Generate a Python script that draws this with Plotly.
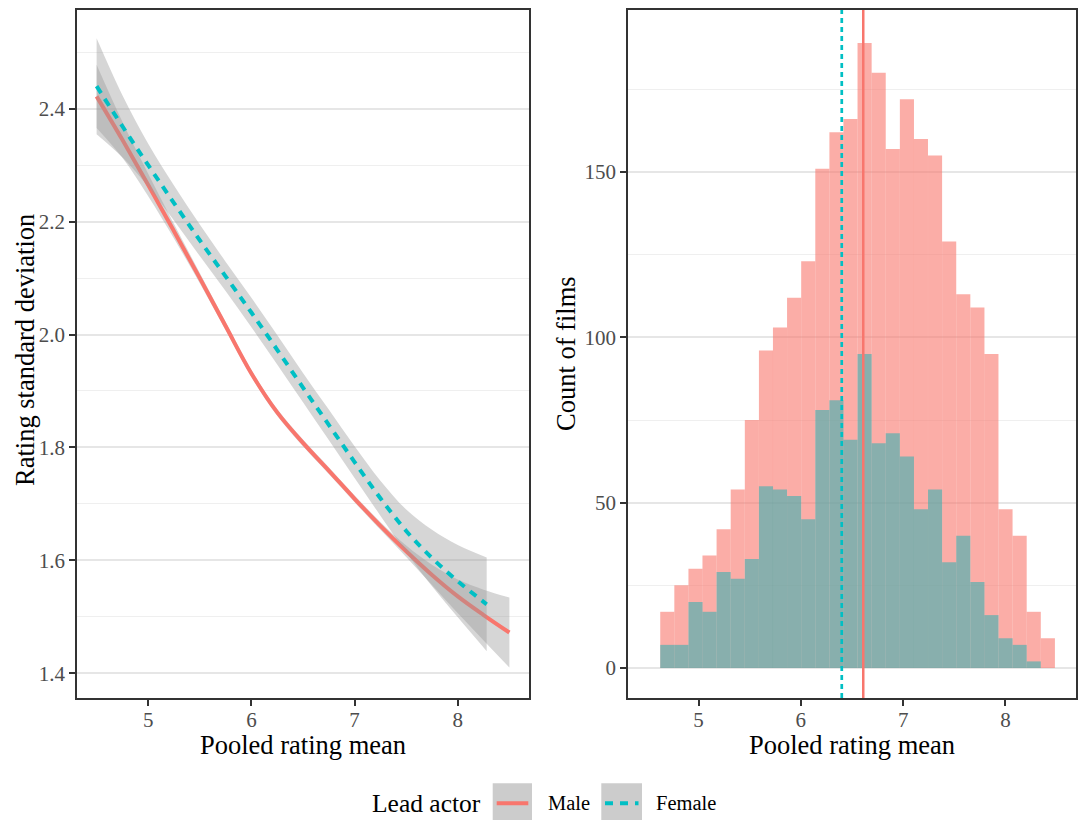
import plotly.graph_objects as go

# ---------------- Data: left panel (loess fit of rating SD vs pooled mean) -------------
male_x = [4.5, 4.75, 5.0, 5.25, 5.5, 5.75, 6.0, 6.25, 6.5, 6.75, 7.0, 7.25, 7.5, 7.75, 8.0, 8.25, 8.5]
male_fit = [2.422, 2.345, 2.265, 2.183, 2.100, 2.015, 1.931, 1.862, 1.808, 1.759, 1.709,
            1.661, 1.616, 1.574, 1.536, 1.503, 1.472]
male_se = [0.056, 0.032, 0.020, 0.013, 0.009, 0.007, 0.006, 0.006, 0.006, 0.006, 0.006,
           0.007, 0.010, 0.018, 0.030, 0.045, 0.062]

female_x = [4.5, 4.75, 5.0, 5.25, 5.5, 5.75, 6.0, 6.25, 6.5, 6.75, 7.0, 7.25, 7.5, 7.75, 8.0, 8.28]
female_fit = [2.440, 2.369, 2.300, 2.233, 2.167, 2.103, 2.039, 1.973, 1.906, 1.840, 1.774,
              1.710, 1.652, 1.604, 1.563, 1.522]
female_se = [0.085, 0.055, 0.038, 0.031, 0.028, 0.026, 0.026, 0.026, 0.026, 0.027, 0.028,
             0.031, 0.038, 0.050, 0.064, 0.083]

# ---------------- Data: right panel (histogram of pooled rating mean) ------------------
bin_centers = [4.694, 4.832, 4.970, 5.107, 5.245, 5.383, 5.521, 5.659, 5.796, 5.934,
               6.072, 6.210, 6.348, 6.485, 6.623, 6.761, 6.899, 7.037, 7.174, 7.312,
               7.450, 7.588, 7.726, 7.863, 8.001, 8.139, 8.277, 8.415]
bin_width = 0.1378
male_counts = [17, 25, 30, 34, 42, 54, 75, 96, 103, 112, 123, 151, 162, 166, 189, 180,
               157, 172, 160, 155, 129, 113, 109, 95, 48, 40, 17, 9]
female_counts = [7, 7, 20, 17, 29, 27, 33, 55, 54, 52, 45, 78, 81, 69, 95, 68, 71, 64,
                 48, 54, 32, 40, 26, 16, 9, 7, 2, 0]
male_mean = 6.61
female_mean = 6.40

x_ticks = [5, 6, 7, 8]
left_y_ticks = [1.4, 1.6, 1.8, 2.0, 2.2, 2.4]
right_y_ticks = [0, 50, 100, 150]

series_names = ["Male", "Female"]
legend_title = "Lead actor"

# ---------------- Styles ----------------
RED = "#F8766D"
TEAL = "#00BFC4"
RIBBON = "rgba(153,153,153,0.4)"
FONT = "Liberation Serif, Times New Roman, serif"

fig = go.Figure()

def add_smooth(x, fit, se, color, dash, name):
    lo = [f - s for f, s in zip(fit, se)]
    hi = [f + s for f, s in zip(fit, se)]
    fig.add_trace(go.Scatter(x=x, y=lo, mode="lines", line=dict(width=0, shape="spline"),
                             xaxis="x", yaxis="y", hoverinfo="skip", showlegend=False))
    fig.add_trace(go.Scatter(x=x, y=hi, mode="lines", line=dict(width=0, shape="spline"),
                             fill="tonexty", fillcolor=RIBBON,
                             xaxis="x", yaxis="y", hoverinfo="skip", showlegend=False))
    fig.add_trace(go.Scatter(x=x, y=fit, mode="lines", name=name,
                             line=dict(color=color, width=4, dash=dash, shape="spline"),
                             xaxis="x", yaxis="y", showlegend=False))

add_smooth(male_x, male_fit, male_se, RED, "solid", series_names[0])
add_smooth(female_x, female_fit, female_se, TEAL, "8px,7px", series_names[1])

fig.add_trace(go.Bar(x=bin_centers, y=male_counts, width=bin_width, name=series_names[0],
                     marker=dict(color="rgba(248,118,109,0.6)", line=dict(width=0)),
                     xaxis="x2", yaxis="y2", showlegend=False))
fig.add_trace(go.Bar(x=bin_centers, y=female_counts, width=bin_width, name=series_names[1],
                     marker=dict(color="rgba(60,176,177,0.6)", line=dict(width=0)),
                     xaxis="x2", yaxis="y2", showlegend=False))

# vertical mean lines
fig.add_shape(type="line", xref="x2", yref="y2 domain", x0=male_mean, x1=male_mean, y0=0, y1=1,
              line=dict(color=RED, width=2.5), layer="above")
fig.add_shape(type="line", xref="x2", yref="y2 domain", x0=female_mean, x1=female_mean, y0=0, y1=1,
              line=dict(color=TEAL, width=2.7, dash="5px,4px"), layer="above")

W, H = 1078, 820
def px(x):
    return x / W
def py(y):
    return 1 - y / H

axis_common = dict(showline=True, linecolor="#333333", linewidth=1.6, mirror=True,
                   ticks="outside", ticklen=6, tickwidth=1.5, tickcolor="#333333",
                   tickfont=dict(size=21, color="#4D4D4D", family=FONT), zeroline=False)

fig.update_layout(
    width=W, height=H, margin=dict(l=0, r=0, t=0, b=0),
    plot_bgcolor="white", paper_bgcolor="white", barmode="overlay", showlegend=False,
    font=dict(family=FONT, color="black"),
    xaxis=dict(domain=[px(77), px(529)], range=[4.31, 8.69], tickvals=x_ticks,
               showgrid=False, anchor="y", ticklabelstandoff=-4, **axis_common),
    yaxis=dict(domain=[py(698), py(10)], range=[1.356, 2.575], tickvals=left_y_ticks,
               ticktext=[f"{v:.1f}" for v in left_y_ticks],
               showgrid=True, gridcolor="#E6E6E6", gridwidth=1.5,
               minor=dict(showgrid=True, gridcolor="#EFEFEF", gridwidth=1.0, dtick=0.1, tick0=1.3),
               anchor="x", **axis_common),
    xaxis2=dict(domain=[px(628), px(1076)], range=[4.31, 8.69], tickvals=x_ticks,
                showgrid=False, anchor="y2", ticklabelstandoff=-4, **axis_common),
    yaxis2=dict(domain=[py(698), py(10)], range=[-9.07, 199], tickvals=right_y_ticks,
                showgrid=True, gridcolor="#E6E6E6", gridwidth=1.5,
                minor=dict(showgrid=True, gridcolor="#EFEFEF", gridwidth=1.0, dtick=25, tick0=0),
                anchor="x2", **axis_common),
)

def text_ann(text, x, y, size, angle=0, xanchor="center"):
    return dict(text=text, x=px(x), y=py(y), xref="paper", yref="paper",
                xanchor=xanchor, yanchor="middle", showarrow=False, textangle=angle,
                font=dict(size=size, family=FONT, color="black"))

ann = [
    text_ann("Pooled rating mean", 303, 745, 26.5),
    text_ann("Pooled rating mean", 852, 745, 26.5),
    text_ann("Rating standard deviation", 25, 350, 26.5, angle=-90),
    text_ann("Count of films", 566, 354, 26.5, angle=-90),
    text_ann(legend_title, 370, 803, 25.5, xanchor="left"),
    text_ann(series_names[0], 546, 803, 20.5, xanchor="left"),
    text_ann(series_names[1], 654, 803, 20.5, xanchor="left"),
]
fig.update_layout(annotations=ann)

# legend keys (ggplot-style grey key backgrounds)
for x0, x1 in [(492.7, 532), (601.3, 642)]:
    fig.add_shape(type="rect", xref="paper", yref="paper", x0=px(x0), x1=px(x1),
                  y0=py(822), y1=py(783.3), fillcolor="#CCCCCC", line=dict(width=0), layer="above")
fig.add_shape(type="line", xref="paper", yref="paper", x0=px(496.7), x1=px(528.3),
              y0=py(803.3), y1=py(803.3), line=dict(color=RED, width=4), layer="above")
fig.add_shape(type="line", xref="paper", yref="paper", x0=px(605), x1=px(638.5),
              y0=py(803.3), y1=py(803.3), line=dict(color=TEAL, width=4, dash="8px,7px"), layer="above")

fig.write_html("out.html")
